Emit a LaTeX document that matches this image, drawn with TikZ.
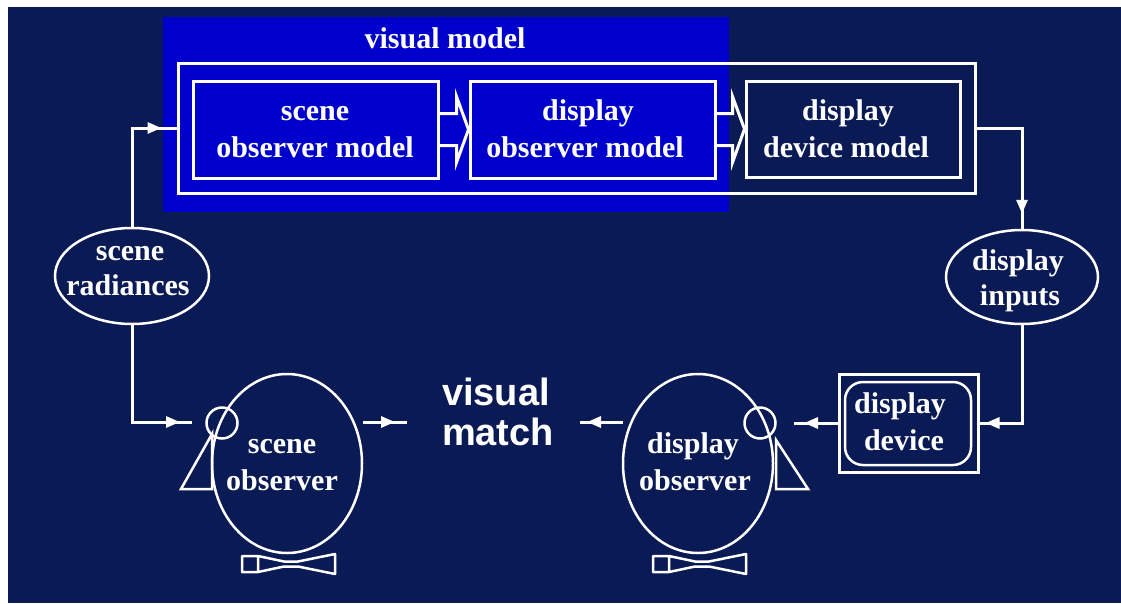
\documentclass[tikz,border=0pt]{standalone}
\usepackage{fontspec}
\setmainfont{Liberation Serif}
\newfontfamily\headsans{Liberation Sans}
\usetikzlibrary{arrows.meta,decorations.markings,shapes.geometric,calc}
\definecolor{navyground}{RGB}{10,26,84}
\definecolor{modelblue}{RGB}{0,0,204}

\begin{document}
\begin{tikzpicture}[x=1pt,y=-1pt,
  txt/.style={anchor=base,text=white,inner sep=0pt,font=\fontsize{30}{36}\selectfont\bfseries},
  bigtxt/.style={anchor=base,text=white,inner sep=0pt,font=\headsans\fontsize{38}{40}\selectfont\bfseries},
  wbox/.style={draw=white,line width=3pt,inner sep=0pt,rectangle},
  wellipse/.style={draw=white,line width=2.5pt,ellipse,inner sep=0pt},
  eyering/.style={draw=white,line width=2.5pt,circle,minimum size=31pt,inner sep=0pt},
  link/.style={draw=white,line width=3pt},
  tipat/.style={postaction={decorate},decoration={markings,
      mark=at position -#1 with {\arrow{Triangle[length=14pt,width=11pt]}}}},
  feet/.pic={
    \draw[white,line width=2.5pt,line join=round]
      (0,-8) -- (16,-8) -- (42,-2.5) -- (56,-2.5) -- (93,-10) -- (93,10)
      -- (56,2.5) -- (42,2.5) -- (16,8) -- (0,8) -- cycle
      (16,-8) -- (16,8);
  }
]
\useasboundingbox (0,0) rectangle (1121,603);
\fill[white] (0,0) rectangle (1121,603);
\fill[navyground] (8,7) rectangle (1121,603);

% visual model group
\fill[modelblue] (163,17) rectangle (729,212);
\node[txt] (vmodel) at (445,48) {visual model};
\node[wbox,minimum width=797pt,minimum height=130pt] (frame) at (576.5,128) {};
\node[wbox,minimum width=245pt,minimum height=97pt] (som) at (315.5,129.5) {};
\node[wbox,minimum width=245pt,minimum height=97pt] (dom) at (592.5,129.5) {};
\node[wbox,minimum width=214pt,minimum height=96pt] (ddm) at (853,129) {};
\node[txt] (somA) at (315,120) {scene};
\node[txt] (somB) at (315,157) {observer model};
\node[txt] (domA) at (588,120) {display};
\node[txt] (domB) at (585,157) {observer model};
\node[txt] (ddmA) at (848,120) {display};
\node[txt] (ddmB) at (846,157) {device model};

% hollow block arrows between the model stages
\draw[link] ($(som.east)+(0,-16)$) -- ++(17,0) -- ++(0,-17) -- (dom.west)
  -- ($(som.east)+(17,33)$) -- ++(0,-17) -- ++(-17,0);
\draw[link] ($(dom.east)+(0,-16)$) -- ++(16,0) -- ++(0,-17) -- (ddm.west)
  -- ($(dom.east)+(16,33)$) -- ++(0,-17) -- ++(-16,0);

% data ellipses
\node[wellipse,minimum width=154pt,minimum height=96pt] (sr) at (132,276) {};
\node[txt] (srA) at (130,260) {scene};
\node[txt] (srB) at (128,295) {radiances};
\node[wellipse,minimum width=152pt,minimum height=94pt] (di) at (1022,277) {};
\node[txt] (diA) at (1018,270) {display};
\node[txt] (diB) at (1020,305) {inputs};

% observers
\node[wellipse,minimum width=150pt,minimum height=179pt] (so) at (287,463.5) {};
\node[eyering] (eyeS) at (222,423) {};
\draw[white,line width=2.5pt] (212,434) -- (181,489) -- (212,489) -- cycle;
\pic at (242,564) {feet};
\node[txt] (soA) at (282,453) {scene};
\node[txt] (soB) at (282,490) {observer};

\node[wellipse,minimum width=150pt,minimum height=179pt] (do) at (698,463.5) {};
\node[eyering] (eyeD) at (760,423) {};
\draw[white,line width=2.5pt] (776,440) -- (808,489) -- (776,489) -- cycle;
\pic at (653,564) {feet};
\node[txt] (doA) at (693,453) {display};
\node[txt] (doB) at (695,490) {observer};

% display device
\node[wbox,minimum width=139pt,minimum height=98pt] (dd) at (908.5,423) {};
\node[draw=white,line width=2.5pt,rounded corners=18pt,minimum width=126pt,
      minimum height=83pt,inner sep=0pt] (ddin) at (908,423.5) {};
\node[txt] (ddA) at (900,413) {display};
\node[txt] (ddB) at (904,450) {device};

% comparison
\node[bigtxt] (vmA) at (496,405) {visual};
\node[bigtxt] (vmB) at (498,445) {match};

% free ends of the short arrows
\coordinate (soOut) at (363,422);
\coordinate (doOut) at (623,422);
\coordinate (matchL) at (407,422);
\coordinate (matchR) at (580,422);
\coordinate (eyeSIn) at (192,422);
\coordinate (eyeDIn) at (794,423);

% connectors
\draw[link,tipat=15pt] (sr.north) |- (frame.west);
\draw[link,tipat=12pt] (sr.south) |- (eyeSIn);
\draw[link,tipat=12pt] (soOut) -- (matchL);
\draw[link,tipat=7pt] (doOut) -- (matchR);
\draw[link,tipat=10pt] (dd.west) -- (eyeDIn);
\draw[link,tipat=15pt] (frame.east) -| (di.north);
\draw[link,tipat=6pt] (di.south) |- (dd.east);
\end{tikzpicture}
\end{document}
